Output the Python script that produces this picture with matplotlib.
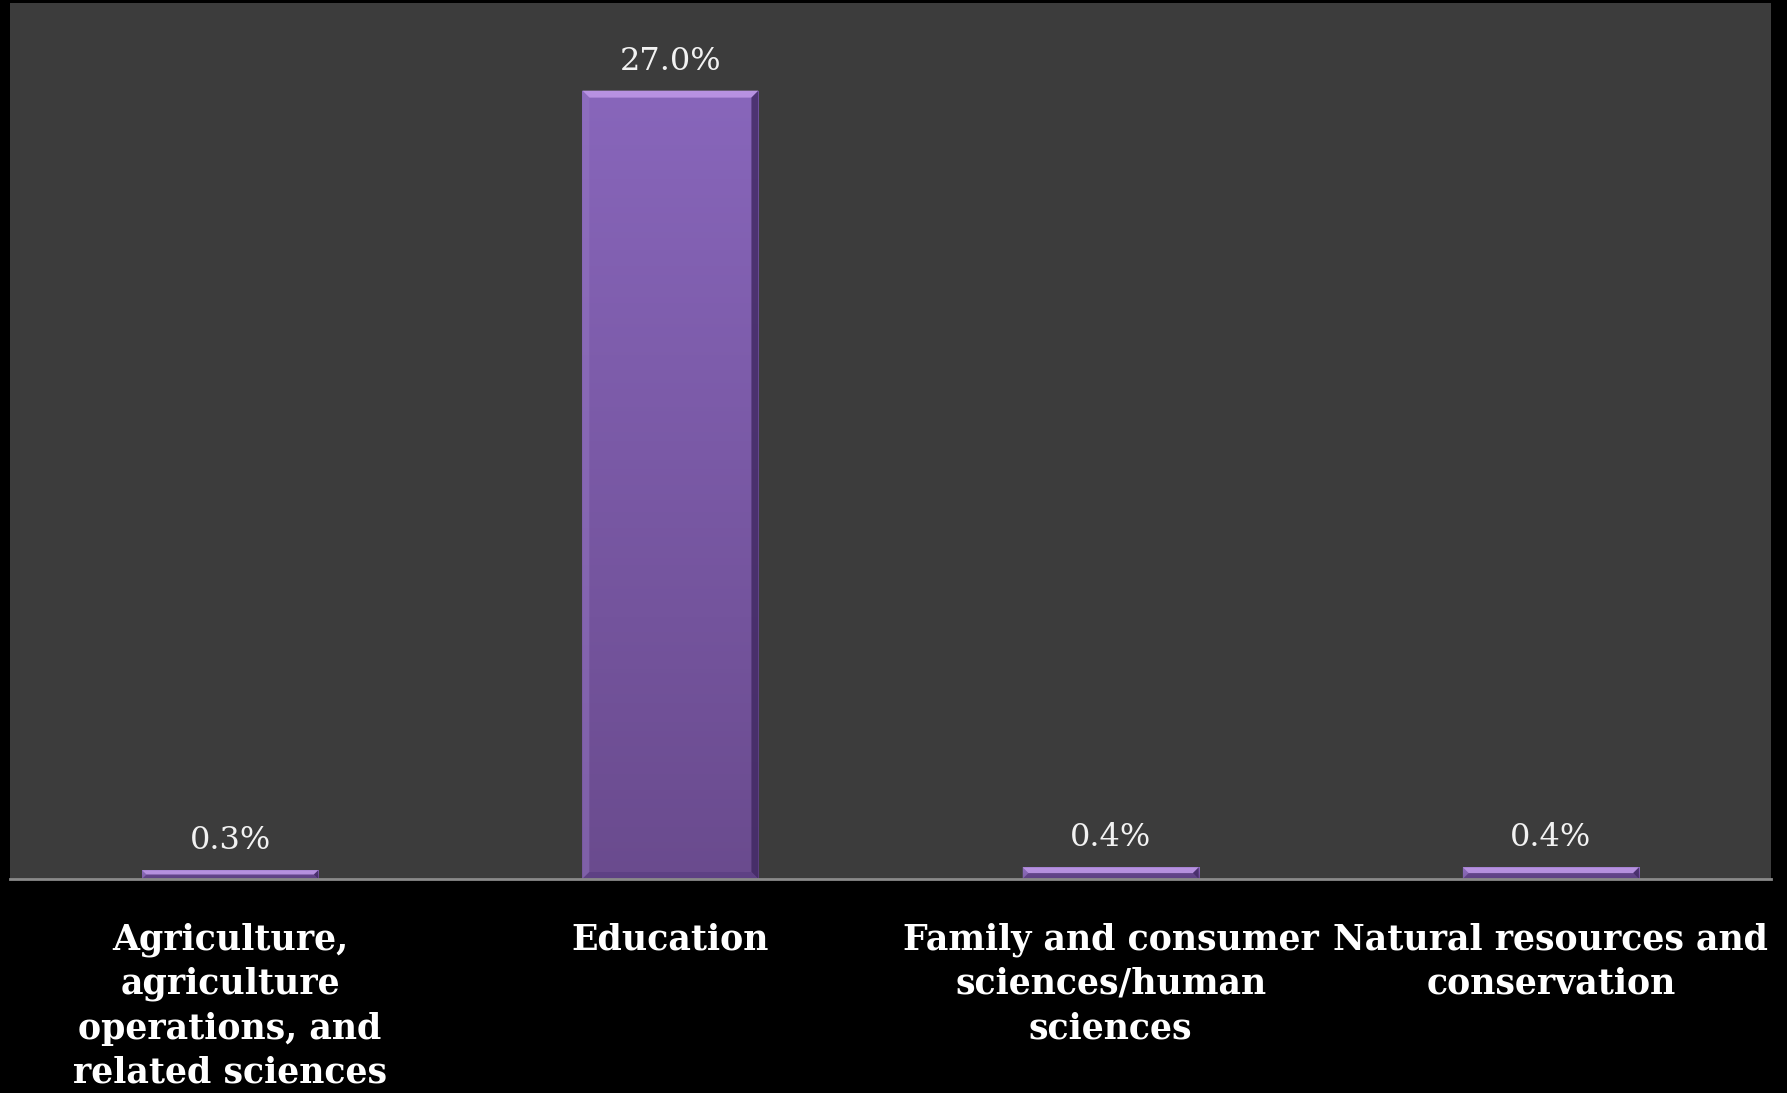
import numpy as np
import matplotlib.pyplot as plt
from matplotlib.patches import Polygon
from matplotlib.colors import LinearSegmentedColormap

categories = ['Agriculture,\nagriculture\noperations, and\nrelated sciences',
              'Education',
              'Family and consumer\nsciences/human\nsciences',
              'Natural resources and\nconservation']
values = [0.3, 27.0, 0.4, 0.4]
labels = ['0.3%', '27.0%', '0.4%', '0.4%']

W, H, DPI = 1787, 1093, 100
fig = plt.figure(figsize=(W/DPI, H/DPI), dpi=DPI, facecolor='black')
ax = fig.add_axes([10/W, (H-879)/H, 1761/W, 876/H])
ax.set_facecolor('#3c3c3c')

x = np.arange(len(values))
width = 0.40
ax.set_xlim(-0.5, len(values)-0.5)
ax.set_ylim(0, 30)

grad = LinearSegmentedColormap.from_list('purp', ['#6a4b8e', '#8866bb'])
bars = ax.bar(x, values, width=width, color='#7a58a8', edgecolor='none', zorder=2)

# pixel size in data units, for the bevel
px_x = (len(values)) / 1761
px_y = 30 / 876
for b in bars:
    x0, y0 = b.get_x(), b.get_y()
    w, h = b.get_width(), b.get_height()
    img = ax.imshow(np.linspace(0, 1, 256).reshape(-1, 1), cmap=grad,
                    extent=[x0, x0+w, y0, y0+h], origin='lower',
                    aspect='auto', zorder=3)
    img.set_clip_path(b)
    bv = min(7, h / px_y / 2)
    bx, by = bv * px_x, bv * px_y
    x1, y1 = x0 + w, y0 + h
    bevels = [
        ([(x0, y1), (x1, y1), (x1-bx, y1-by), (x0+bx, y1-by)], '#c09ae8', 0.85),
        ([(x0, y0), (x0, y1), (x0+bx, y1-by), (x0+bx, y0+by)], '#9475c2', 0.5),
        ([(x1, y0), (x1, y1), (x1-bx, y1-by), (x1-bx, y0+by)], '#3f2760', 0.8),
        ([(x0, y0), (x1, y0), (x1-bx, y0+by), (x0+bx, y0+by)], '#5a3d80', 0.7),
    ]
    for pts, c, a in bevels:
        ax.add_patch(Polygon(pts, closed=True, facecolor=c, edgecolor='none',
                             alpha=a, zorder=4))

for xi, v, lab in zip(x, values, labels):
    ax.annotate(lab, (xi, v), xytext=(0, 10), textcoords='offset points',
                ha='center', va='bottom', color='#f2f2f2', fontsize=23,
                family='DejaVu Serif', zorder=5)

for s in ['top', 'right', 'left']:
    ax.spines[s].set_visible(False)
ax.spines['bottom'].set_color('#8a8a8a')
ax.spines['bottom'].set_linewidth(2)
ax.spines['bottom'].set_zorder(6)

ax.set_yticks([])
ax.set_xticks(x)
ax.set_xticklabels(categories, color='white', fontsize=25, fontweight='bold',
                   family='DejaVu Serif', linespacing=1.38)
ax.tick_params(axis='x', length=0, pad=31)

fig.savefig('out.png', dpi=DPI, facecolor='black')
